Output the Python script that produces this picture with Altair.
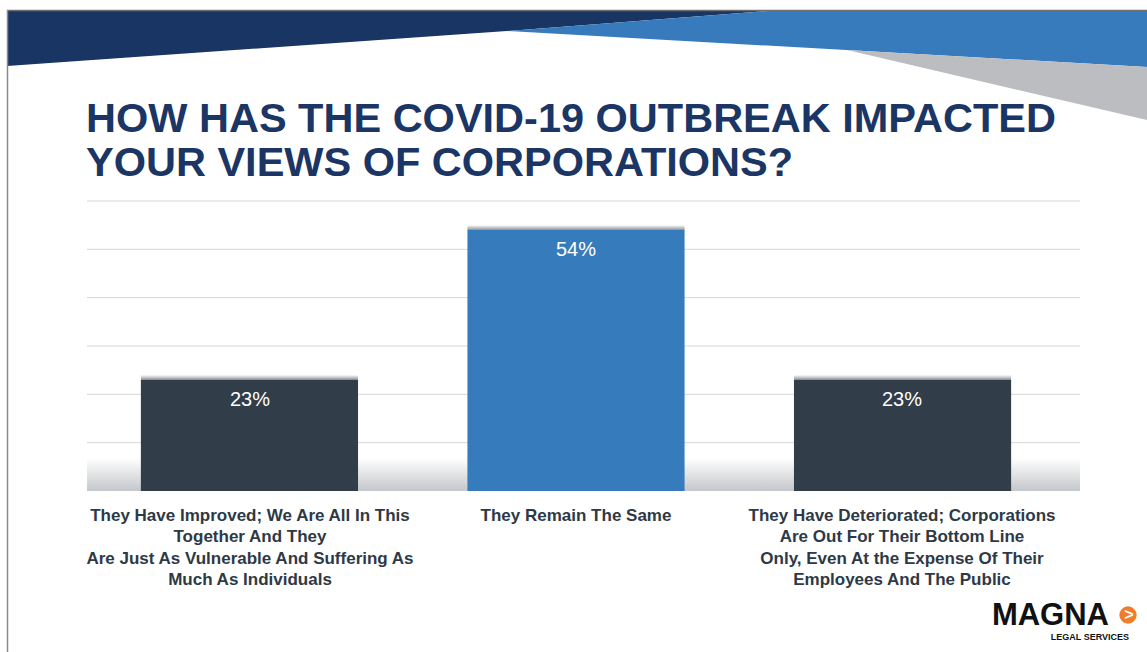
import altair as alt
import pandas as pd

# ---------------- data ----------------
title_lines = ["HOW HAS THE COVID-19 OUTBREAK IMPACTED", "YOUR VIEWS OF CORPORATIONS?"]
categories = [
    "They Have Improved; We Are All In This\nTogether And They\nAre Just As Vulnerable And Suffering As\nMuch As Individuals",
    "They Remain The Same",
    "They Have Deteriorated; Corporations\nAre Out For Their Bottom Line\nOnly, Even At the Expense Of Their\nEmployees And The Public",
]
values = [23, 54, 23]
bar_groups = ["dark", "blue", "dark"]
grid_values = [10, 20, 30, 40, 50, 60]

W, H = 1147, 652
NAVY = "#1b3564"
BLUE = "#367cbd"
DARK = "#323d4a"
FONT = "Liberation Sans"

df = pd.DataFrame({"category": categories, "value": values, "group": bar_groups})
df["label"] = [f"{v}%" for v in values]
grid_df = pd.DataFrame({"value": grid_values})

xb = alt.Scale(domain=categories, range=[87, 1065], paddingInner=0.335, paddingOuter=0.165)
yv = alt.Scale(domain=[0, 60], range=[491, 201])
one = alt.Data(values=[{}])

# ---------------- decoration (slide banner) ----------------
decor_df = pd.DataFrame({
    "shape": ["navy"] * 3 + ["blue"] * 3 + ["gray"] * 2,
    "px": [7, 507, 767, 507, 767, 1147, 847, 1147],
    "lo": [66, 31, 11, 31, 45.6, 67, 50, 120],
    "hi": [11, 11, 11, 31, 11, 11, 50, 67],
})
px = alt.Scale(domain=[0, W], range=[0, W])
py = alt.Scale(domain=[0, H], range=[0, H])
decor = alt.Chart(decor_df).mark_area(interpolate="linear").encode(
    x=alt.X("px:Q", scale=px, axis=None),
    y=alt.Y("lo:Q", scale=py, axis=None, stack=None),
    y2="hi:Q",
    color=alt.Color("shape:N", scale=alt.Scale(domain=["navy", "blue", "gray"],
                                               range=["#183563", "#377bbd", "#bcbdc1"]), legend=None),
)

border_top = alt.Chart(one).mark_rule(color="#6f6f6f", strokeWidth=1.5).encode(
    x=alt.value(7), x2=alt.value(W), y=alt.value(10.5))
border_left = alt.Chart(one).mark_rule(color="#8a8a8a", strokeWidth=1.5).encode(
    x=alt.value(7.5), y=alt.value(10), y2=alt.value(H))

title = alt.Chart(one).mark_text(
    text="\n".join(title_lines), lineBreak="\n", lineHeight=44, font=FONT, fontSize=41.5,
    fontWeight="bold", color=NAVY, align="left", baseline="alphabetic",
).encode(x=alt.value(86), y=alt.value(132))

# ---------------- chart ----------------
floor = alt.Chart(one).mark_rect(
    color=alt.Gradient(gradient="linear", x1=0, x2=0, y1=0, y2=1,
                       stops=[alt.GradientStop(color="#ffffff", offset=0),
                              alt.GradientStop(color="#c4c7cb", offset=1)]),
).encode(x=alt.value(87), x2=alt.value(1080), y=alt.value(458), y2=alt.value(491))

grid = alt.Chart(grid_df).mark_rule(color="#d6d6d6", strokeWidth=1).encode(
    x=alt.value(87), x2=alt.value(1080),
    y=alt.Y("value:Q", scale=yv, axis=None),
)

bar_shadow = alt.Chart(df).mark_rect(
    yOffset=-5, y2Offset=0,
    color=alt.Gradient(gradient="linear", x1=0, x2=0, y1=0, y2=1,
                       stops=[alt.GradientStop(color="#ffffff", offset=0),
                              alt.GradientStop(color="#8f9195", offset=1)]),
).encode(
    x=alt.X("category:N", scale=xb, axis=None, sort=categories),
    y=alt.Y("value:Q", scale=yv, axis=None),
    y2="value:Q",
)

bars = alt.Chart(df).mark_bar().encode(
    x=alt.X("category:N", scale=xb, axis=None, sort=categories),
    y=alt.Y("value:Q", scale=yv, axis=None),
    y2=alt.Y2(datum=0),
    color=alt.Color("group:N", scale=alt.Scale(domain=["dark", "blue"], range=[DARK, BLUE]), legend=None),
)

value_labels = alt.Chart(df).mark_text(
    font=FONT, fontSize=20, color="white", baseline="middle", dy=20,
).encode(
    x=alt.X("category:N", scale=xb, axis=None, sort=categories),
    y=alt.Y("value:Q", scale=yv, axis=None),
    text="label:N",
)

cat_labels = alt.Chart(df).mark_text(
    font=FONT, fontSize=17, fontWeight="bold", color="#2e3946", lineBreak="\n",
    lineHeight=21.3, baseline="alphabetic", align="center",
).encode(
    x=alt.X("category:N", scale=xb, axis=None, sort=categories),
    y=alt.value(521),
    text="category:N",
)

# ---------------- logo ----------------
logo_text = alt.Chart(one).mark_text(
    text="MAGNA", font=FONT, fontSize=31, fontWeight="bold", color="#111111",
    align="right", baseline="alphabetic",
).encode(x=alt.value(1109), y=alt.value(625))
logo_dot = alt.Chart(one).mark_point(filled=True, shape="circle", size=300, color="#ef7d2b", opacity=1).encode(
    x=alt.value(1128), y=alt.value(615))
logo_arrow = alt.Chart(one).mark_text(
    text=">", font=FONT, fontSize=16, fontWeight="bold", color="white", align="center", baseline="middle",
).encode(x=alt.value(1129), y=alt.value(615))
logo_sub = alt.Chart(one).mark_text(
    text="LEGAL SERVICES", font=FONT, fontSize=9, fontWeight="bold", color="#111111",
    align="right", baseline="alphabetic",
).encode(x=alt.value(1129), y=alt.value(640))

chart = alt.layer(
    decor, border_top, border_left, title,
    floor, grid, bar_shadow, bars, value_labels, cat_labels,
    logo_text, logo_dot, logo_arrow, logo_sub,
).resolve_scale(
    x="independent", y="independent", color="independent"
).properties(
    width=W, height=H, padding=0, background="white",
    autosize=alt.AutoSizeParams(type="none"),
).configure_view(stroke=None)

chart.save("out.html", embed_options={"renderer": "svg", "actions": False})
